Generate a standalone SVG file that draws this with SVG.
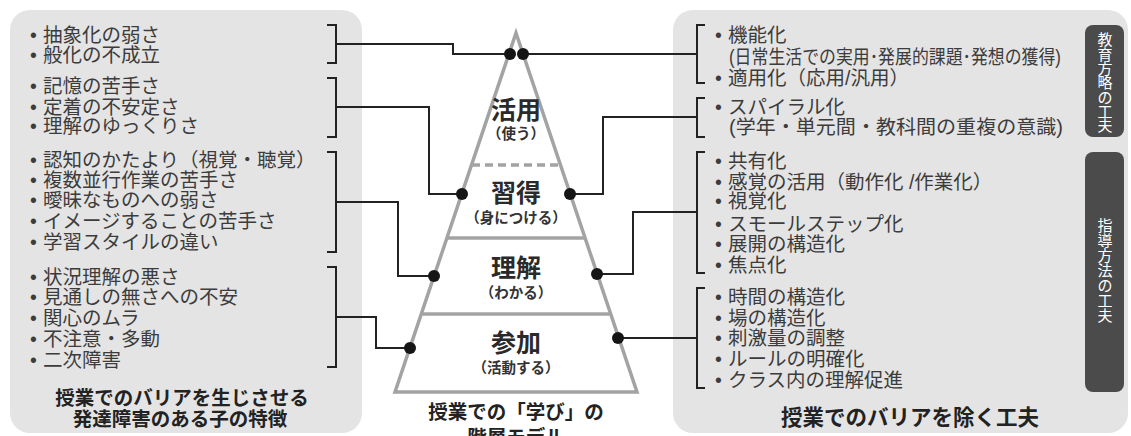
<svg xmlns="http://www.w3.org/2000/svg" width="1131" height="436" viewBox="0 0 1131 436">
<style>
  .panel { fill: #e4e4e4; }
  .tab { fill: #4b4b4b; }
  .tabtxt { fill: #ffffff; font-family: "Noto Sans CJK JP", sans-serif; font-size: 15px; text-anchor: middle; }
  .t { fill: #3c3c3c; font-family: "Liberation Sans", "Noto Sans CJK JP", sans-serif; font-size: 19.5px; }
  .title { fill: #222; font-family: "Noto Sans CJK JP", sans-serif; font-size: 19.5px; font-weight: 700; text-anchor: middle; }
  .lvl { fill: #2a2a2a; font-family: "Noto Sans CJK JP", sans-serif; font-size: 25px; font-weight: 700; text-anchor: middle; }
  .sub { fill: #333; font-family: "Noto Sans CJK JP", sans-serif; font-size: 14.5px; font-weight: 700; text-anchor: middle; }
  .br { fill: none; stroke: #222; stroke-width: 2; }
  .conn { fill: none; stroke: #222; stroke-width: 2; }
  .dot { fill: #151515; }
  .pyr { fill: #ffffff; stroke: #a3a3a3; stroke-width: 3.5; stroke-linejoin: miter; }
  .pline { stroke: #a3a3a3; stroke-width: 3.5; }
</style>
<rect width="1131" height="436" fill="#ffffff"/>

<g id="left-panel">
  <rect class="panel" x="10" y="10" width="352" height="423" rx="20"/>
  <g id="left-g1">
    <text class="t" x="30" y="42"><tspan>•</tspan><tspan x="43">抽象化の弱さ</tspan></text>
    <text class="t" x="30" y="62"><tspan>•</tspan><tspan x="43">般化の不成立</tspan></text>
    <path class="br" d="M327,25 H336 V63 H327"/>
  </g>
  <g id="left-g2">
    <text class="t" x="30" y="93"><tspan>•</tspan><tspan x="43">記憶の苦手さ</tspan></text>
    <text class="t" x="30" y="114"><tspan>•</tspan><tspan x="43">定着の不安定さ</tspan></text>
    <text class="t" x="30" y="133"><tspan>•</tspan><tspan x="43">理解のゆっくりさ</tspan></text>
    <path class="br" d="M327,78 H336 V137 H327"/>
  </g>
  <g id="left-g3">
    <text class="t" x="30" y="167"><tspan>•</tspan><tspan x="43">認知のかたより（視覚・聴覚）</tspan></text>
    <text class="t" x="30" y="187"><tspan>•</tspan><tspan x="43">複数並行作業の苦手さ</tspan></text>
    <text class="t" x="30" y="207"><tspan>•</tspan><tspan x="43">曖昧なものへの弱さ</tspan></text>
    <text class="t" x="30" y="228"><tspan>•</tspan><tspan x="43">イメージすることの苦手さ</tspan></text>
    <text class="t" x="30" y="249"><tspan>•</tspan><tspan x="43">学習スタイルの違い</tspan></text>
    <path class="br" d="M327,152 H336 V252 H327"/>
  </g>
  <g id="left-g4">
    <text class="t" x="30" y="284"><tspan>•</tspan><tspan x="43">状況理解の悪さ</tspan></text>
    <text class="t" x="30" y="304"><tspan>•</tspan><tspan x="43">見通しの無さへの不安</tspan></text>
    <text class="t" x="30" y="325"><tspan>•</tspan><tspan x="43">関心のムラ</tspan></text>
    <text class="t" x="30" y="346"><tspan>•</tspan><tspan x="43">不注意・多動</tspan></text>
    <text class="t" x="30" y="367"><tspan>•</tspan><tspan x="43">二次障害</tspan></text>
    <path class="br" d="M327,267 H336 V367 H327"/>
  </g>
  <text class="title" x="182" y="405">授業でのバリアを生じさせる</text>
  <text class="title" x="180" y="425.5">発達障害のある子の特徴</text>
</g>

<g id="right-panel">
  <rect class="panel" x="673" y="10" width="455" height="423" rx="20"/>
  <g id="right-g1">
    <text class="t" x="715" y="42"><tspan>•</tspan><tspan x="728">機能化</tspan></text>
    <text class="t" x="729" y="64" textLength="332" lengthAdjust="spacingAndGlyphs">(日常生活での実用･発展的課題･発想の獲得)</text>
    <text class="t" x="715" y="85"><tspan>•</tspan><tspan x="728">適用化（応用/汎用）</tspan></text>
    <path class="br" d="M705,25 H697 V83 H705"/>
  </g>
  <g id="right-g2">
    <text class="t" x="715" y="114"><tspan>•</tspan><tspan x="728">スパイラル化</tspan></text>
    <text class="t" x="729" y="134" textLength="334" lengthAdjust="spacingAndGlyphs">(学年・単元間・教科間の重複の意識)</text>
    <path class="br" d="M705,98 H697 V137 H705"/>
  </g>
  <g id="right-g3">
    <text class="t" x="715" y="168"><tspan>•</tspan><tspan x="728">共有化</tspan></text>
    <text class="t" x="715" y="189"><tspan>•</tspan><tspan x="728">感覚の活用（動作化 /作業化）</tspan></text>
    <text class="t" x="715" y="208"><tspan>•</tspan><tspan x="728">視覚化</tspan></text>
    <text class="t" x="715" y="231"><tspan>•</tspan><tspan x="728">スモールステップ化</tspan></text>
    <text class="t" x="715" y="251"><tspan>•</tspan><tspan x="728">展開の構造化</tspan></text>
    <text class="t" x="715" y="272"><tspan>•</tspan><tspan x="728">焦点化</tspan></text>
    <path class="br" d="M705,152 H697 V273 H705"/>
  </g>
  <g id="right-g4">
    <text class="t" x="715" y="304"><tspan>•</tspan><tspan x="728">時間の構造化</tspan></text>
    <text class="t" x="715" y="325"><tspan>•</tspan><tspan x="728">場の構造化</tspan></text>
    <text class="t" x="715" y="345"><tspan>•</tspan><tspan x="728">刺激量の調整</tspan></text>
    <text class="t" x="715" y="366"><tspan>•</tspan><tspan x="728">ルールの明確化</tspan></text>
    <text class="t" x="715" y="387"><tspan>•</tspan><tspan x="728">クラス内の理解促進</tspan></text>
    <path class="br" d="M705,288 H697 V388 H705"/>
  </g>
  <text class="title" x="910" y="425" style="font-size:21.5px">授業でのバリアを除く工夫</text>
  <g id="tab-strategy">
    <rect class="tab" x="1085" y="25" width="39" height="112" rx="8"/>
    <text class="tabtxt"><tspan x="1105" y="45.3">教</tspan><tspan x="1105" y="59.6">育</tspan><tspan x="1105" y="73.9">方</tspan><tspan x="1105" y="88.2">略</tspan><tspan x="1105" y="102.5">の</tspan><tspan x="1105" y="116.8">工</tspan><tspan x="1105" y="131.1">夫</tspan></text>
  </g>
  <g id="tab-method">
    <rect class="tab" x="1085" y="152" width="39" height="240" rx="8"/>
    <text class="tabtxt"><tspan x="1105" y="231">指</tspan><tspan x="1105" y="246">導</tspan><tspan x="1105" y="261">方</tspan><tspan x="1105" y="276">法</tspan><tspan x="1105" y="291">の</tspan><tspan x="1105" y="306">工</tspan><tspan x="1105" y="321">夫</tspan></text>
  </g>
</g>

<g id="pyramid">
  <polygon class="pyr" points="516,33 637,392 395,392"/>
  <line class="pline" x1="472" y1="165" x2="560" y2="165" stroke-dasharray="8,5"/>
  <line class="pline" x1="447" y1="238" x2="585" y2="238"/>
  <line class="pline" x1="421" y1="314" x2="611" y2="314"/>
  <g id="lvl-katsuyou">
    <text class="lvl" x="516" y="119">活用</text>
    <text class="sub" x="516" y="139">（使う）</text>
  </g>
  <g id="lvl-shuutoku">
    <text class="lvl" x="516" y="202">習得</text>
    <text class="sub" x="516" y="223">（身につける）</text>
  </g>
  <g id="lvl-rikai">
    <text class="lvl" x="516" y="277">理解</text>
    <text class="sub" x="516" y="298">（わかる）</text>
  </g>
  <g id="lvl-sanka">
    <text class="lvl" x="516" y="352">参加</text>
    <text class="sub" x="516" y="373">（活動する）</text>
  </g>
  <text class="title" x="516" y="419">授業での「学び」の</text>
  <text class="title" x="516" y="444">階層モデル</text>
</g>

<g id="connectors">
  <path class="conn" d="M336,44 H453 V54 H510"/>
  <path class="conn" d="M336,107 H429 V194 H462"/>
  <path class="conn" d="M336,202 H398 V276 H434"/>
  <path class="conn" d="M336,317 H376 V348 H410"/>
  <path class="conn" d="M523,54 H697"/>
  <path class="conn" d="M697,117 H603 V194 H570"/>
  <path class="conn" d="M697,212 H633 V274 H597"/>
  <path class="conn" d="M697,338 H618"/>
  <circle class="dot" cx="510" cy="54" r="6"/>
  <circle class="dot" cx="523" cy="54" r="6"/>
  <circle class="dot" cx="462" cy="194" r="6"/>
  <circle class="dot" cx="434" cy="276" r="6"/>
  <circle class="dot" cx="410" cy="348" r="6"/>
  <circle class="dot" cx="570" cy="194" r="6"/>
  <circle class="dot" cx="597" cy="274" r="6"/>
  <circle class="dot" cx="618" cy="338" r="6"/>
</g>
</svg>
